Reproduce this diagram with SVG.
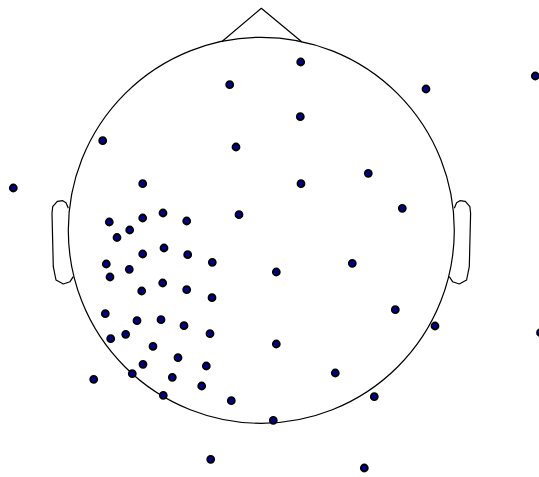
<svg xmlns="http://www.w3.org/2000/svg" width="539" height="477" viewBox="0 0 539 477">
<style>
.o{fill:none;stroke:#000;stroke-width:1.2;stroke-linejoin:round}
.s{fill:#00008b;stroke:#000;stroke-width:1.8}
</style>
<defs><circle id="d" r="3.5" class="s"/></defs>
<rect width="539" height="477" fill="#fff"/>
<g id="head">
<circle cx="261.3" cy="230.3" r="193" class="o"/>
<polyline class="o" points="221.7,41.7 261.3,8.3 301.7,41.7"/>
<polyline class="o" points="68.3,208.3 66,202.7 62.7,200.7 57.3,201.3 52.7,206.7 52,213.3 53.3,266.7 56,280 63.3,284 70,281.7 73.3,276.7"/>
<polyline class="o" points="454.3,208.3 456.6,202.7 459.9,200.7 465.3,201.3 469.9,206.7 470.6,213.3 469.3,266.7 466.6,280 459.3,284 452.6,281.7 449.3,276.7"/>
</g>
<g id="sensors">
<use href="#d" x="229.7" y="84.7"/>
<use href="#d" x="102.7" y="140.7"/>
<use href="#d" x="236" y="147"/>
<use href="#d" x="13.3" y="188"/>
<use href="#d" x="142.7" y="183.7"/>
<use href="#d" x="163" y="213"/>
<use href="#d" x="142.7" y="218"/>
<use href="#d" x="109.3" y="222"/>
<use href="#d" x="186.7" y="221"/>
<use href="#d" x="239" y="214.7"/>
<use href="#d" x="129.7" y="230"/>
<use href="#d" x="117" y="237.5"/>
<use href="#d" x="300.7" y="62"/>
<use href="#d" x="535.3" y="76"/>
<use href="#d" x="426" y="89"/>
<use href="#d" x="300.3" y="116.7"/>
<use href="#d" x="368.3" y="173.3"/>
<use href="#d" x="301" y="183.7"/>
<use href="#d" x="402.3" y="208.3"/>
<use href="#d" x="142.7" y="254"/>
<use href="#d" x="164" y="248"/>
<use href="#d" x="187.7" y="254.7"/>
<use href="#d" x="212.3" y="262.3"/>
<use href="#d" x="106.3" y="264"/>
<use href="#d" x="129.3" y="269.3"/>
<use href="#d" x="110" y="277"/>
<use href="#d" x="162.7" y="283"/>
<use href="#d" x="141.7" y="291"/>
<use href="#d" x="186.7" y="289.7"/>
<use href="#d" x="212" y="297.7"/>
<use href="#d" x="105.3" y="313.7"/>
<use href="#d" x="137" y="320.7"/>
<use href="#d" x="161" y="319.7"/>
<use href="#d" x="184" y="325.7"/>
<use href="#d" x="210" y="333.7"/>
<use href="#d" x="110.7" y="338.7"/>
<use href="#d" x="125.7" y="334.3"/>
<use href="#d" x="153" y="346.3"/>
<use href="#d" x="178" y="357.7"/>
<use href="#d" x="206.3" y="366"/>
<use href="#d" x="143" y="364.3"/>
<use href="#d" x="132.3" y="373.7"/>
<use href="#d" x="172.3" y="377.3"/>
<use href="#d" x="201.7" y="386"/>
<use href="#d" x="93.7" y="379.3"/>
<use href="#d" x="163.3" y="395.3"/>
<use href="#d" x="231.3" y="400.7"/>
<use href="#d" x="210.7" y="459.3"/>
<use href="#d" x="276.3" y="272"/>
<use href="#d" x="352.3" y="263.3"/>
<use href="#d" x="395.3" y="309.7"/>
<use href="#d" x="435" y="326"/>
<use href="#d" x="540.5" y="332.7"/>
<use href="#d" x="276.3" y="344"/>
<use href="#d" x="335.3" y="373"/>
<use href="#d" x="374.3" y="396.7"/>
<use href="#d" x="273.3" y="420.3"/>
<use href="#d" x="364.3" y="468"/>
</g>
</svg>
